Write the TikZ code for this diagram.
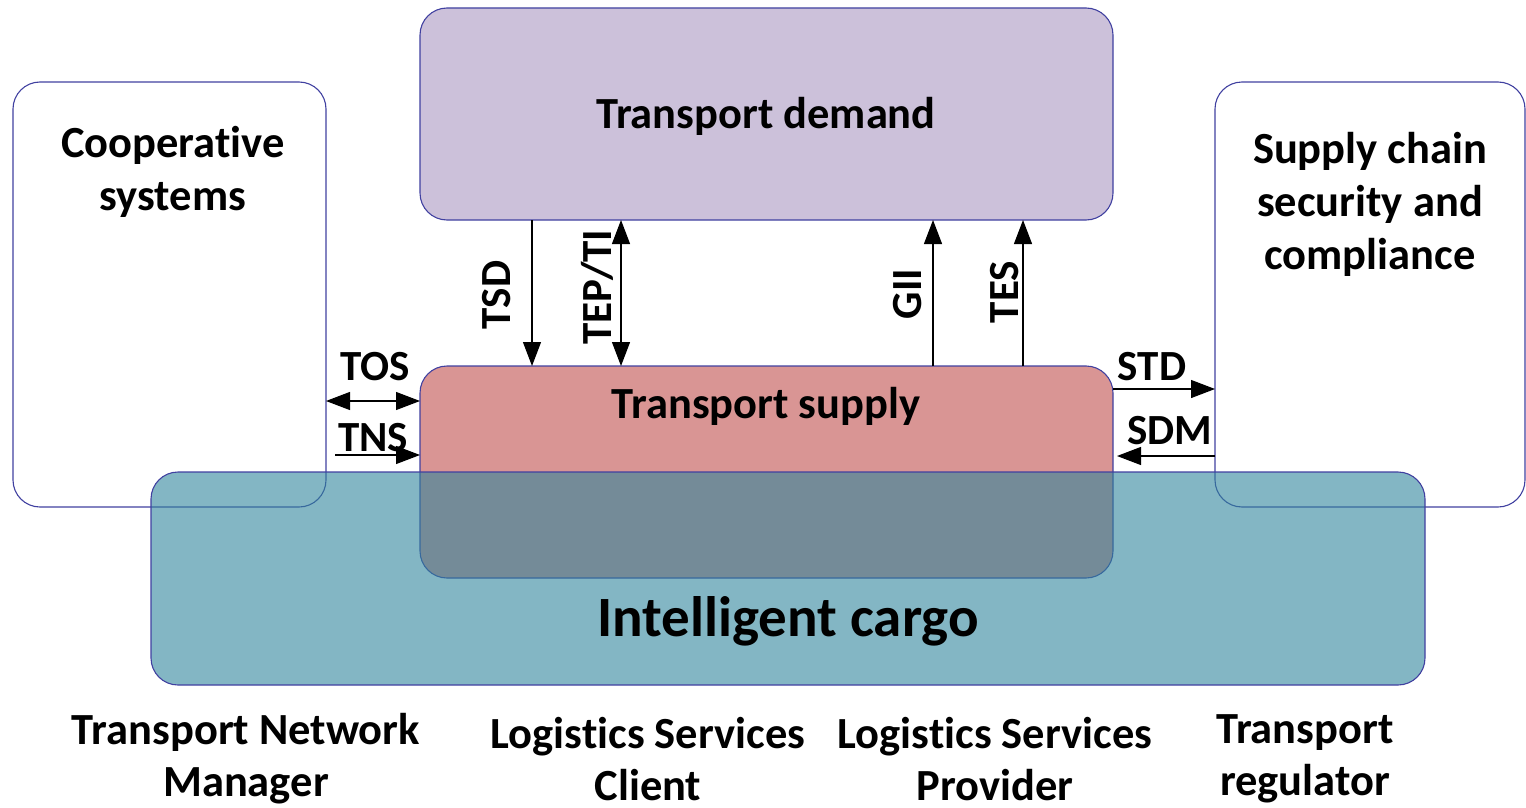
\documentclass[tikz,border=0pt]{standalone}
\usepackage{fontspec}
\setmainfont{Carlito}[Ligatures=NoCommon]
\usetikzlibrary{arrows.meta}
\definecolor{edgeblue}{RGB}{64,64,160}
\definecolor{demandfill}{RGB}{204,193,218}
\definecolor{supplyfill}{RGB}{217,149,148}
\definecolor{cargofill}{RGB}{49,133,156}
\tikzset{
  box/.style={draw=edgeblue, line width=1.1pt, rounded corners=27pt,
    inner sep=0pt, outer sep=0pt},
  bigtxt/.style={font=\bfseries\fontsize{44.5}{53}\selectfont, align=center, inner sep=0pt},
  actortxt/.style={font=\bfseries\fontsize{44.5}{52}\selectfont, align=center, inner sep=0pt},
  flowtxt/.style={font=\bfseries\fontsize{43}{48}\selectfont, inner sep=0pt},
  flow/.style={line width=1.2pt, -{Triangle[length=24pt,width=18pt]}},
  flowboth/.style={line width=1.2pt, {Triangle[length=24pt,width=18pt]}-{Triangle[length=24pt,width=18pt]}},
}
\begin{document}
\begin{tikzpicture}[x=1pt,y=-1pt]
\useasboundingbox (0,0) rectangle (1526,808);

% side domains (outline only)
\node[box, minimum width=313pt, minimum height=425pt] (coop) at (169.5,294.5) {};
\node[box, minimum width=310pt, minimum height=425pt] (scsc) at (1370,294.5) {};

% demand and supply
\node[box, fill=demandfill, minimum width=693pt, minimum height=212pt] (demand) at (766.5,114) {};
\node[box, fill=supplyfill, minimum width=693pt, minimum height=212pt] (supply) at (766.5,472) {};

% intelligent cargo, translucent over the rest
\node[box, fill=cargofill, fill opacity=0.6, minimum width=1274pt, minimum height=213pt] (cargo) at (788,578.5) {};

% box titles
\node[bigtxt] (tdemand) at (766,116) {Transport demand};
\node[bigtxt] (tsupply) at (766,406) {Transport supply};
\node[bigtxt] (tcoop) at (173,172) {Cooperative\\systems};
\node[bigtxt] (tscsc) at (1370,204) {Supply chain\\security and\\compliance};
\node[font=\bfseries\fontsize{57}{60}\selectfont, inner sep=0pt] (tcargo) at (788,621) {Intelligent cargo};

% actors along the bottom
\node[actortxt] (a1) at (246,759) {Transport Network\\Manager};
\node[actortxt] (a2) at (648,759) {Logistics Services\\Client};
\node[actortxt] (a3) at (995,759) {Logistics Services\\Provider};
\node[actortxt] (a4) at (1305,759) {Transport\\regulator};

% positions of the flows
\coordinate (xTSD) at (532,0);
\coordinate (xTEP) at (621,0);
\coordinate (xGII) at (933,0);
\coordinate (xTES) at (1023,0);
\coordinate (yTOS) at (0,401);
\coordinate (yTNS) at (0,455);
\coordinate (ySTD) at (0,389);
\coordinate (ySDM) at (0,456);
\coordinate (tnsStart) at (335,455);
\coordinate (sdmEnd) at (1117,456);

% vertical flows between demand and supply
\draw[flow] (xTSD |- demand.south) -- (xTSD |- supply.north);
\draw[flowboth] (xTEP |- demand.south) -- (xTEP |- supply.north);
\draw[flow] (xGII |- supply.north) -- (xGII |- demand.south);
\draw[flow] (xTES |- supply.north) -- (xTES |- demand.south);

% horizontal flows to the side domains
\draw[flowboth] (coop.east |- yTOS) -- (supply.west |- yTOS);
\draw[flow] (tnsStart) -- (supply.west |- yTNS);
\draw[flow] (supply.east |- ySTD) -- (scsc.west |- ySTD);
\draw[flow] (scsc.west |- ySDM) -- (sdmEnd);

% flow labels
\node[flowtxt, rotate=90] (lTSD) at (497,295) {TSD};
\node[flowtxt, rotate=90] (lTEP) at (597,287) {TEP/TI};
\node[flowtxt, rotate=90] (lGII) at (908,294) {GII};
\node[flowtxt, rotate=90] (lTES) at (1005,292) {TES};
\node[flowtxt] (lTOS) at (375,367) {TOS};
\node[flowtxt] (lTNS) at (373,438) {TNS};
\node[flowtxt] (lSTD) at (1152,367) {STD};
\node[flowtxt] (lSDM) at (1170,431) {SDM};
\end{tikzpicture}
\end{document}
